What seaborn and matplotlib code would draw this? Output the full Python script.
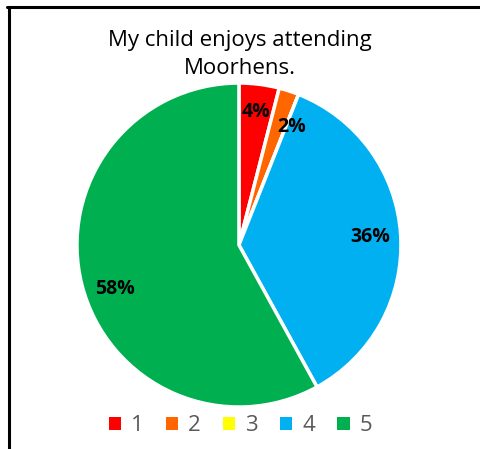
import matplotlib
matplotlib.use("Agg")
import numpy as np
import matplotlib.pyplot as plt
import seaborn as sns
from matplotlib.lines import Line2D
from matplotlib.patches import Patch

categories = ['1', '2', '3', '4', '5']
counts = [2, 1, 0, 18, 29]
colors = ['#FF0000', '#FF6600', '#FFFF00', '#00B0F0', '#00B050']
title = 'My child enjoys attending\nMoorhens.'

sns.set_theme(style='white')
plt.rcParams['font.family'] = ['Open Sans', 'DejaVu Sans']

fig = plt.figure(figsize=(4.81, 4.49), dpi=100)
ax = fig.add_axes([0.160, 0.0935, 0.6736, 0.7216])


def pct(p):
    return '' if p < 0.5 else f'{p:.0f}%'


wedges, texts, autotexts = ax.pie(
    counts, colors=colors, startangle=90, counterclock=False,
    autopct=pct, pctdistance=0.81, radius=1,
    wedgeprops=dict(edgecolor='white', linewidth=2.5),
    textprops=dict(fontsize=14, fontweight='bold', color='black'))

# nudge the small labels apart like Excel's best fit
for i, (r, shift) in {0: (0.83, 0), 1: (0.80, -6), 4: (0.81, 5)}.items():
    w = wedges[i]
    ang = np.deg2rad((w.theta1 + w.theta2) / 2 + shift)
    autotexts[i].set_position((r * np.cos(ang), r * np.sin(ang)))

ax.set_xlim(-1, 1)
ax.set_ylim(-1, 1)
ax.set_aspect('equal')

fig.text(0.499, 0.879, title, ha='center', va='center', fontsize=16,
         color='#000000', linespacing=1.45)

handles = [Patch(facecolor=c, edgecolor='none') for c in colors]
fig.legend(handles, categories, loc='center', bbox_to_anchor=(0.5, 0.052),
           ncol=5, frameon=False, fontsize=16, labelcolor='#595959',
           handlelength=0.55, handleheight=0.55, handletextpad=0.45,
           columnspacing=1.0)

fig.add_artist(Line2D([7 / 481, 1], [1 - 6.5 / 449, 1 - 6.5 / 449],
                      color='black', linewidth=2.2, transform=fig.transFigure))
fig.add_artist(Line2D([8.5 / 481, 8.5 / 481], [0, 1 - 6.5 / 449],
                      color='black', linewidth=2.2, transform=fig.transFigure))

fig.savefig('out.png', dpi=100)
